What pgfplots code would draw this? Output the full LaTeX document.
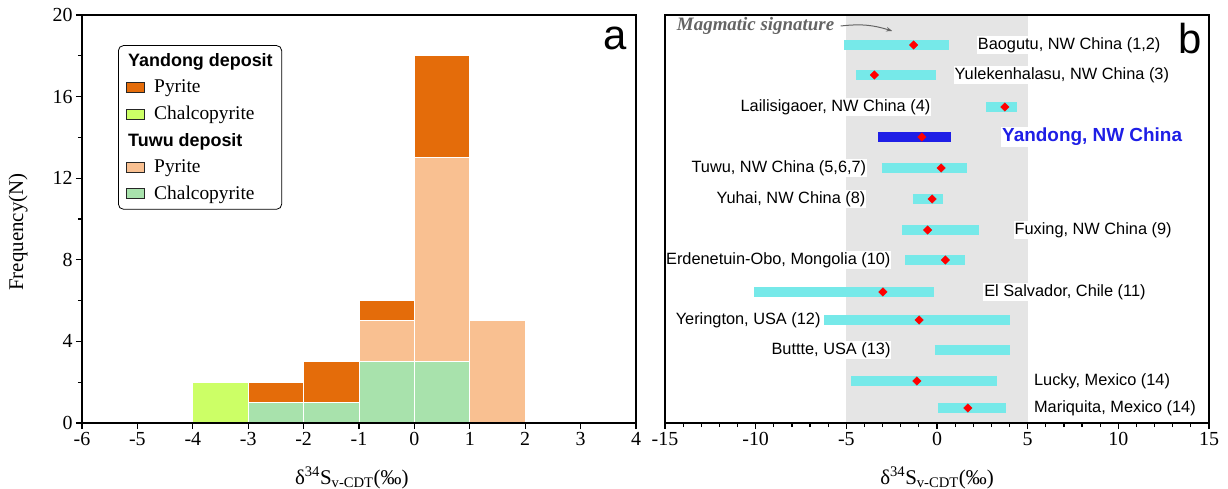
\documentclass[border=0pt]{standalone}
\usepackage{fontspec}
\setmainfont{Liberation Serif}
\newfontfamily\arial{Liberation Sans}
\usepackage{pgfplots}
\pgfplotsset{compat=1.18}
\usetikzlibrary{patterns.meta,arrows.meta}
\definecolor{ydpy}{RGB}{228,108,10}
\definecolor{ydcp}{RGB}{204,255,102}
\definecolor{twpy}{RGB}{249,192,145}
\definecolor{twcp}{RGB}{168,226,172}
\definecolor{barcyan}{RGB}{118,233,233}
\definecolor{ydblue}{RGB}{30,30,230}
\definecolor{band}{RGB}{229,229,229}
\definecolor{annot}{RGB}{100,100,100}
\pgfplotsset{
  common/.style={
    scale only axis, anchor=south west,
    axis on top,
    axis line style={line width=1.3bp},
    tick style={line width=1.2bp, black},
    major tick length=6bp, minor tick length=4bp,
    tick align=outside, tick pos=left,
    /pgf/number format/assume math mode=true,
    ticklabel style={font=\fontsize{20}{22}\selectfont},
    label style={font=\fontsize{21}{24}\selectfont},
  },
  swatch/.style={legend image code/.code={\draw[sharp corners, fill=#1, draw=black!85, line width=0.8bp] (0bp,-5bp) rectangle (18bp,5bp);}},
}
\begin{document}
\begin{tikzpicture}
\path[use as bounding box] (0bp,0bp) rectangle (1228bp,489bp);
% ---------------- panel a ----------------
\begin{axis}[common,
  at={(82bp,66bp)}, width=554bp, height=408bp,
  xmin=-6, xmax=4, ymin=0, ymax=20,
  xtick={-6,-5,...,4}, ytick={0,4,...,20}, minor y tick num=1,
  ybar stacked, bar width=1,
  xlabel={δ\textsuperscript{34}S\textsubscript{v-CDT}(‰)},
  ylabel={Frequency(N)},
  ylabel style={at={(axis description cs:-0.1155,0.468)}, anchor=center},
  xlabel style={at={(axis description cs:0.487,-0.135)}, anchor=center},
  legend cell align=left,
  legend style={at={(0.065,0.926)}, anchor=north west, draw=black, line width=0.8bp,
    rounded corners=5bp, font=\fontsize{19.5}{22}\selectfont, row sep=10bp, column sep=8bp,
    nodes={inner xsep=1bp, inner ysep=1bp},
    inner xsep=8bp, inner ysep=7bp},
]
\addplot[fill=twcp, draw=white, line width=1bp, forget plot] coordinates {(-3.5,0) (-2.5,1) (-1.5,1) (-0.5,3) (0.5,3) (1.5,0)};
\addplot[fill=twpy, draw=white, line width=1bp, forget plot] coordinates {(-3.5,0) (-2.5,0) (-1.5,0) (-0.5,2) (0.5,10) (1.5,5)};
\addplot[fill=ydcp, draw=white, line width=1bp, forget plot] coordinates {(-3.5,2) (-2.5,0) (-1.5,0) (-0.5,0) (0.5,0) (1.5,0)};
\addplot[fill=ydpy, draw=white, line width=1bp, forget plot] coordinates {(-3.5,0) (-2.5,1) (-1.5,2) (-0.5,1) (0.5,5) (1.5,0)};
\addlegendimage{legend image code/.code={}}
\addlegendentry{\hspace*{-26bp}{\arial\bfseries\fontsize{18}{20}\selectfont Yandong deposit}}
\addlegendimage{swatch=ydpy}
\addlegendentry{Pyrite}
\addlegendimage{swatch=ydcp}
\addlegendentry{Chalcopyrite}
\addlegendimage{legend image code/.code={}}
\addlegendentry{\hspace*{-26bp}{\arial\bfseries\fontsize{18}{20}\selectfont Tuwu deposit}}
\addlegendimage{swatch=twpy}
\addlegendentry{Pyrite}
\addlegendimage{swatch=twcp}
\addlegendentry{Chalcopyrite}
\node[anchor=base east, inner sep=0pt, font=\arial\fontsize{42}{44}\selectfont] at (axis cs:3.84,18.33) {a};
\end{axis}
% ---------------- panel b ----------------
\begin{axis}[common,
  at={(665bp,66bp)}, width=544bp, height=408bp,
  xmin=-15, xmax=15, ymin=0, ymax=408,
  xtick={-15,-10,...,15}, minor x tick num=4, ytick=\empty,
  xlabel={δ\textsuperscript{34}S\textsubscript{v-CDT}(‰)},
  xlabel style={at={(axis description cs:0.5,-0.135)}, anchor=center},
  clip=false,
]
\addplot[fill=band, draw=none] coordinates {(-5,408) (5,408)} \closedcycle;
\addplot[pattern={Lines[angle=62,distance=6bp,line width=0.3bp]}, pattern color=black!10, draw=none] coordinates {(-5,408) (5,408)} \closedcycle;
% ranges
\addplot[barcyan, line width=10bp] coordinates {(-5.12,378) (0.68,378)};
\addplot[barcyan, line width=10bp] coordinates {(-4.45,348) (-0.05,348)};
\addplot[barcyan, line width=10bp] coordinates {(2.70,316) (4.41,316)};
\addplot[ydblue, line width=10bp] coordinates {(-3.25,286) (0.78,286)};
\addplot[barcyan, line width=10bp] coordinates {(-3.06,255) (1.66,255)};
\addplot[barcyan, line width=10bp] coordinates {(-1.33,224) (0.32,224)};
\addplot[barcyan, line width=10bp] coordinates {(-1.92,193) (2.31,193)};
\addplot[barcyan, line width=10bp] coordinates {(-1.76,163) (1.52,163)};
\addplot[barcyan, line width=10bp] coordinates {(-10.07,131) (-0.17,131)};
\addplot[barcyan, line width=10bp] coordinates {(-6.22,103) (4.02,103)};
\addplot[barcyan, line width=10bp] coordinates {(-0.13,73) (4.02,73)};
\addplot[barcyan, line width=10bp] coordinates {(-4.72,42) (3.31,42)};
\addplot[barcyan, line width=10bp] coordinates {(0.05,15) (3.80,15)};
% means
\addplot[only marks, mark=square*, mark size=3bp, red, mark options={rotate=45, fill=red, draw=red}] coordinates {
(-1.29,378) (-3.45,348) (3.74,316) (-0.83,286) (0.23,255) (-0.27,224) (-0.52,193) (0.46,163) (-2.98,131) (-0.99,103) (-1.11,42) (1.70,15)};
% labels
\tikzset{lab/.style={fill=white, inner sep=1bp, font=\arial\fontsize{16.4}{18}\selectfont}}
\node[lab, anchor=west] at (axis cs:2.19,378) {Baogutu, NW China (1,2)};
\node[lab, anchor=west] at (axis cs:0.91,348) {Yulekenhalasu, NW China (3)};
\node[lab, anchor=east] at (axis cs:-0.30,316) {Lailisigaoer, NW China (4)};
\node[fill=white, inner sep=1bp, anchor=west, text=ydblue, font=\arial\bfseries\fontsize{19}{21}\selectfont] at (axis cs:3.53,286) {Yandong, NW China};
\node[lab, anchor=east] at (axis cs:-3.84,255) {Tuwu, NW China (5,6,7)};
\node[lab, anchor=east] at (axis cs:-3.88,224) {Yuhai, NW China (8)};
\node[lab, anchor=west] at (axis cs:4.21,193) {Fuxing, NW China (9)};
\node[lab, anchor=east] at (axis cs:-2.50,163) {Erdenetuin-Obo, Mongolia (10)};
\node[lab, anchor=west] at (axis cs:2.54,131) {El Salvador, Chile (11)};
\node[lab, anchor=east] at (axis cs:-6.36,103) {Yerington, USA (12)};
\node[lab, anchor=east] at (axis cs:-2.50,73) {Buttte, USA (13)};
\node[lab, anchor=west] at (axis cs:5.29,42) {Lucky, Mexico (14)};
\node[lab, anchor=west] at (axis cs:5.29,15) {Mariquita, Mexico (14)};
\node[anchor=west, inner sep=0pt, text=annot, font=\bfseries\itshape\fontsize{19}{21}\selectfont] at (axis cs:-14.35,397) {Magmatic signature};
\draw[annot, line width=1bp, -{Stealth[length=6bp]}] (axis cs:-5.31,397) to[bend left=12] (axis cs:-2.47,392);
\node[anchor=base east, inner sep=0pt, font=\arial\fontsize{42}{44}\selectfont] at (axis cs:14.62,369) {b};
\end{axis}
\end{tikzpicture}
\end{document}
